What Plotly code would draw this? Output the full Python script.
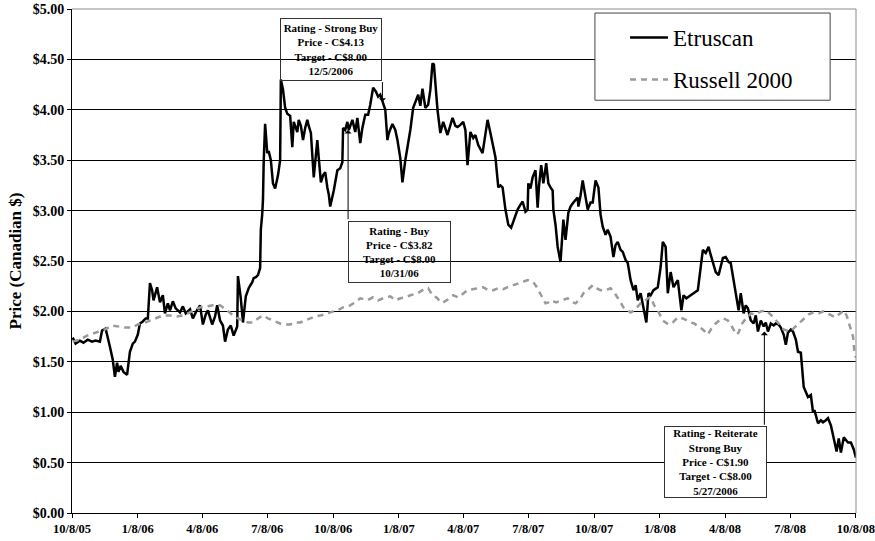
import pandas as pd
import plotly.graph_objects as go

START = pd.Timestamp("2005-10-08")

# Etruscan closing price (C$), days since 10/8/05
etr_day = [
    1, 5, 11, 16, 22, 28, 33, 39, 42, 47,
    53, 57, 60, 63, 65, 68, 72, 77, 81, 85,
    88, 92, 95, 99, 103, 106, 109, 112, 114, 119,
    123, 127, 130, 134, 137, 141, 145, 151, 155, 159,
    165, 169, 173, 179, 183, 187, 190, 196, 200, 203,
    207, 211, 214, 218, 222, 226, 231, 232, 236, 239,
    243, 247, 252, 254, 257, 260, 263, 264, 266, 267,
    268, 270, 273, 275, 278, 281, 284, 288, 291, 292,
    295, 298, 301, 305, 308, 310, 315, 317, 320, 323,
    326, 329, 331, 334, 338, 341, 343, 345, 348, 351,
    354, 357, 359, 361, 364, 366, 371, 375, 378, 379,
    382, 385, 387, 392, 396, 399, 403, 406, 410, 414,
    417, 421, 425, 428, 431, 434, 438, 441, 443, 448,
    452, 455, 459, 462, 464, 466, 470, 473, 477, 481,
    484, 487, 490, 494, 498, 501, 504, 506, 511, 515,
    519, 525, 529, 532, 536, 539, 543, 547, 550, 553,
    557, 561, 564, 568, 574, 578, 581, 585, 588, 592,
    596, 599, 602, 606, 610, 614, 617, 623, 627, 630,
    634, 637, 638, 641, 644, 648, 651, 653, 656, 659,
    663, 666, 669, 672, 673, 676, 679, 683, 687, 690,
    694, 697, 701, 704, 707, 708, 711, 714, 718, 721,
    725, 728, 732, 736, 739, 742, 746, 749, 753, 757,
    760, 763, 767, 770, 774, 777, 781, 785, 788, 791,
    795, 799, 803, 806, 809, 813, 819, 823, 826, 830,
    833, 837, 841, 847, 848, 852, 855, 859, 865, 869,
    875, 879, 882, 886, 890, 893, 896, 900, 904, 907,
    910, 914, 918, 921, 925, 928, 932, 935, 939, 942,
    945, 949, 953, 956, 959, 963, 967, 970, 973, 977,
    981, 984, 988, 991, 995, 998, 1001, 1005, 1008, 1012,
    1015, 1019, 1022, 1023, 1026, 1029, 1033, 1036, 1038, 1043,
    1047, 1050, 1054, 1057, 1061, 1065, 1069, 1072, 1075, 1079,
    1082, 1085, 1089, 1093, 1096,
]
etr_price = [
    1.74, 1.68, 1.71, 1.69, 1.72, 1.70, 1.71, 1.70, 1.81, 1.83,
    1.65, 1.52, 1.35, 1.49, 1.40, 1.46, 1.40, 1.37, 1.60, 1.68,
    1.70, 1.77, 1.88, 1.90, 1.93, 1.93, 2.28, 2.21, 2.11, 2.24,
    2.09, 2.16, 1.98, 2.08, 2.01, 2.10, 2.03, 1.99, 2.05, 1.98,
    2.02, 1.93, 1.99, 2.06, 1.87, 1.97, 2.01, 1.87, 1.95, 2.06,
    1.91, 1.86, 1.70, 1.82, 1.86, 1.76, 1.85, 2.35, 2.13, 1.89,
    2.15, 2.23, 2.29, 2.33, 2.34, 2.36, 2.43, 2.81, 2.97, 3.11,
    3.48, 3.86, 3.57, 3.59, 3.50, 3.27, 3.22, 3.35, 3.50, 4.30,
    4.20, 4.02, 3.96, 3.94, 3.63, 3.88, 3.78, 3.90, 3.84, 3.70,
    3.82, 3.90, 3.84, 3.77, 3.33, 3.60, 3.70, 3.52, 3.28, 3.35,
    3.38, 3.23, 3.16, 3.04, 3.13, 3.20, 3.40, 3.42, 3.48, 3.82,
    3.80, 3.88, 3.80, 3.90, 3.78, 3.92, 3.67, 3.82, 3.95, 3.95,
    4.05, 4.22, 4.18, 4.13, 4.15, 4.08, 4.00, 3.70, 3.77, 3.86,
    3.80, 3.70, 3.52, 3.28, 3.40, 3.50, 3.67, 3.80, 4.02, 4.10,
    4.15, 4.04, 4.21, 4.02, 4.05, 4.20, 4.46, 4.45, 4.00, 3.77,
    3.88, 3.75, 3.86, 3.92, 3.84, 3.83, 3.85, 3.88, 3.80, 3.45,
    3.78, 3.72, 3.75, 3.65, 3.57, 3.75, 3.90, 3.77, 3.67, 3.53,
    3.23, 3.25, 3.23, 3.01, 2.86, 2.83, 2.89, 3.01, 3.06, 3.09,
    2.99, 3.01, 3.27, 3.22, 3.33, 3.40, 3.03, 3.25, 3.45, 3.27,
    3.47, 3.27, 3.23, 3.20, 3.01, 2.86, 2.64, 2.49, 2.91, 2.71,
    2.98, 3.04, 3.08, 3.11, 3.13, 3.04, 3.15, 3.30, 3.15, 3.01,
    3.08, 3.08, 3.30, 3.23, 2.96, 2.84, 2.76, 2.81, 2.74, 2.54,
    2.66, 2.69, 2.61, 2.59, 2.51, 2.48, 2.31, 2.21, 2.26, 2.11,
    2.18, 2.04, 1.89, 2.18, 2.16, 2.21, 2.24, 2.44, 2.69, 2.64,
    2.18, 2.39, 2.24, 2.31, 2.24, 2.01, 2.16, 2.13, 2.16, 2.18,
    2.21, 2.44, 2.61, 2.58, 2.64, 2.56, 2.48, 2.39, 2.36, 2.46,
    2.53, 2.54, 2.49, 2.48, 2.31, 2.16, 2.01, 2.18, 1.98, 2.06,
    2.03, 1.91, 1.88, 1.96, 1.80, 1.91, 1.85, 1.89, 1.80, 1.88,
    1.86, 1.88, 1.87, 1.84, 1.77, 1.67, 1.79, 1.82, 1.80, 1.72,
    1.60, 1.59, 1.32, 1.25, 1.20, 1.15, 1.17, 1.00, 1.02, 0.89,
    0.92, 0.90, 0.92, 0.94, 0.87, 0.75, 0.61, 0.74, 0.60, 0.75,
    0.72, 0.70, 0.70, 0.63, 0.55,
]

# Russell 2000 (rebased), days since 10/8/05
rus_day = [
    1, 11, 21, 35, 46, 56, 63, 74, 85, 92,
    99, 109, 119, 127, 137, 147, 155, 165, 172, 179,
    189, 197, 207, 217, 225, 232, 239, 246, 253, 260,
    267, 274, 281, 291, 298, 305, 312, 319, 326, 333,
    340, 347, 354, 361, 371, 379, 389, 396, 403, 413,
    421, 428, 435, 445, 452, 459, 466, 473, 483, 490,
    498, 504, 511, 515, 519, 526, 533, 540, 547, 553,
    560, 567, 575, 582, 589, 596, 603, 609, 617, 624,
    631, 637, 641, 645, 649, 652, 658, 662, 666, 669,
    677, 686, 693, 700, 704, 711, 715, 722, 728, 733,
    739, 746, 753, 758, 763, 767, 771, 777, 781, 786,
    791, 795, 799, 805, 809, 814, 819, 823, 826, 830,
    834, 840, 847, 854, 859, 865, 870, 876, 882, 889,
    894, 900, 905, 911, 917, 921, 925, 929, 932, 936,
    940, 945, 949, 956, 963, 970, 975, 981, 988, 995,
    999, 1005, 1010, 1016, 1023, 1030, 1037, 1044, 1050, 1057,
    1062, 1067, 1073, 1079, 1083, 1086, 1089, 1092, 1094, 1096,
]
rus_price = [
    1.70, 1.72, 1.76, 1.79, 1.82, 1.86, 1.85, 1.84, 1.84, 1.87,
    1.88, 1.91, 1.94, 1.96, 1.96, 1.95, 1.96, 1.99, 2.02, 2.04,
    2.05, 2.06, 2.06, 2.01, 1.96, 1.93, 1.91, 1.89, 1.89, 1.93,
    1.96, 1.93, 1.91, 1.88, 1.87, 1.87, 1.89, 1.89, 1.91, 1.93,
    1.95, 1.96, 1.97, 1.99, 2.01, 2.04, 2.06, 2.09, 2.13, 2.11,
    2.14, 2.11, 2.13, 2.15, 2.11, 2.13, 2.14, 2.16, 2.18, 2.21,
    2.23, 2.16, 2.13, 2.09, 2.09, 2.12, 2.16, 2.14, 2.18, 2.21,
    2.22, 2.23, 2.24, 2.21, 2.21, 2.23, 2.22, 2.24, 2.26, 2.27,
    2.29, 2.31, 2.30, 2.29, 2.25, 2.21, 2.13, 2.08, 2.09, 2.11,
    2.09, 2.11, 2.13, 2.09, 2.08, 2.13, 2.18, 2.22, 2.26, 2.23,
    2.21, 2.21, 2.23, 2.19, 2.14, 2.09, 2.04, 2.01, 1.99, 2.01,
    2.05, 2.08, 2.09, 2.13, 2.14, 2.06, 2.01, 1.95, 1.91, 1.89,
    1.87, 1.89, 1.94, 1.93, 1.91, 1.89, 1.88, 1.85, 1.82, 1.77,
    1.83, 1.88, 1.91, 1.93, 1.91, 1.87, 1.82, 1.77, 1.79, 1.87,
    1.91, 1.94, 1.98, 1.97, 2.00, 2.01, 1.98, 1.94, 1.88, 1.82,
    1.81, 1.80, 1.84, 1.88, 1.93, 1.97, 1.99, 1.98, 2.00, 1.98,
    1.96, 1.94, 1.98, 2.01, 1.96, 1.88, 1.82, 1.75, 1.59, 1.54,
]

x_tick_dates = ["2005-10-08", "2006-01-08", "2006-04-08", "2006-07-08", "2006-10-08",
                "2007-01-08", "2007-04-08", "2007-07-08", "2007-10-08", "2008-01-08",
                "2008-04-08", "2008-07-08", "2008-10-08"]
x_tick_labels = ["10/8/05", "1/8/06", "4/8/06", "7/8/06", "10/8/06", "1/8/07", "4/8/07",
                 "7/8/07", "10/8/07", "1/8/08", "4/8/08", "7/8/08", "10/8/08"]
y_ticks = [0.0, 0.5, 1.0, 1.5, 2.0, 2.5, 3.0, 3.5, 4.0, 4.5, 5.0]
y_tick_labels = ["$%.2f" % v for v in y_ticks]

series_names = ["Etruscan", "Russell 2000"]

notes = [
    "Rating - Strong Buy<br>Price - C$4.13<br>Target - C$8.00<br>12/5/2006",
    "Rating - Buy<br>Price - C$3.82<br>Target - C$8.00<br>10/31/06",
    "Rating - Reiterate<br>Strong Buy<br>Price - C$1.90<br>Target - C$8.00<br>5/27/2006",
]


def d(n):
    return START + pd.Timedelta(days=n)


SERIF = "Liberation Serif, Times New Roman, serif"

fig = go.Figure()
fig.add_trace(go.Scatter(
    x=[d(n) for n in etr_day], y=etr_price, mode="lines", name=series_names[0],
    line=dict(color="black", width=2.5), legendgroup="e"))
fig.add_trace(go.Scatter(
    x=[d(n) for n in rus_day], y=rus_price, mode="lines", name=series_names[1],
    line=dict(color="#9a9a9a", width=2.5, dash="6px,5px"), legendgroup="r"))

ann_font = dict(family=SERIF, size=11, color="black", weight="bold")
annotations = []
# note boxes: (text idx, left day, top price, width, height, fill)
boxes = [
    (0, 291, 4.91, 100, 61, "rgba(0,0,0,0)"),
    (1, 386, 2.90, 101, 60, "rgba(0,0,0,0)"),
    (2, 827, 0.86, 101, 70, "white"),
]
for i, xd, yt, w, h, fill in boxes:
    annotations.append(dict(
        x=d(xd), y=yt, xref="x", yref="y", xanchor="left", yanchor="top",
        text=notes[i], showarrow=False, font=ann_font, align="center", valign="middle",
        width=w, height=h, bordercolor="#333333", borderwidth=1, borderpad=0, bgcolor=fill))

# pointer lines: (day, tail price, tip price)
pointers = [(434, 4.29, 4.08), (386, 2.90, 3.80), (968, 0.86, 1.80)]
for xd, y0, y1 in pointers:
    annotations.append(dict(
        x=d(xd), y=y1, ax=d(xd), ay=y0, xref="x", yref="y", axref="x", ayref="y",
        text="", showarrow=True, arrowhead=1, arrowsize=1.2, arrowwidth=1,
        arrowcolor="black", standoff=0, startstandoff=0))

shapes = [
    dict(type="line", xref="paper", yref="paper", x0=0, x1=1, y0=1, y1=1,
         line=dict(color="#8c8c8c", width=1)),
    dict(type="line", xref="paper", yref="paper", x0=1, x1=1, y0=0, y1=1,
         line=dict(color="#8c8c8c", width=1)),
    dict(type="rect", xref="paper", yref="paper", x0=0.667, x1=0.967, y0=0.819, y1=0.992,
         line=dict(color="#444444", width=1), fillcolor="white", layer="above"),
]

fig.update_layout(
    width=875, height=541, template="none",
    margin=dict(l=72, r=19, t=9, b=28, pad=0),
    paper_bgcolor="white", plot_bgcolor="white",
    font=dict(family=SERIF, color="black"),
    showlegend=True,
    legend=dict(x=0.7054, y=0.986, xanchor="left", yanchor="top",
                bgcolor="rgba(0,0,0,0)", borderwidth=0, itemwidth=38,
                font=dict(family=SERIF, size=23, color="black"),
                tracegroupgap=9, traceorder="grouped"),
    annotations=annotations,
    shapes=shapes,
    xaxis=dict(
        type="date", range=[d(0), d(1096) + pd.Timedelta(hours=3)],
        tickvals=x_tick_dates, ticktext=x_tick_labels, ticklabeloverflow="allow",
        ticks="outside", ticklen=4, tickcolor="black", showline=True, linecolor="black",
        linewidth=1, showgrid=False, zeroline=False, automargin=False,
        tickfont=dict(family=SERIF, size=12.5, color="black", weight="bold")),
    yaxis=dict(
        range=[0, 5], tickvals=y_ticks, ticktext=y_tick_labels,
        ticks="outside", ticklen=4, tickcolor="black", showline=True, linecolor="black",
        linewidth=1, showgrid=True, gridcolor="black", gridwidth=1, zeroline=False,
        automargin=False,
        tickfont=dict(family=SERIF, size=14, color="black", weight="bold"),
        title=dict(text="Price (Canadian $)", standoff=6,
                   font=dict(family=SERIF, size=17, color="black", weight="bold"))),
)

fig.write_html("out.html")
